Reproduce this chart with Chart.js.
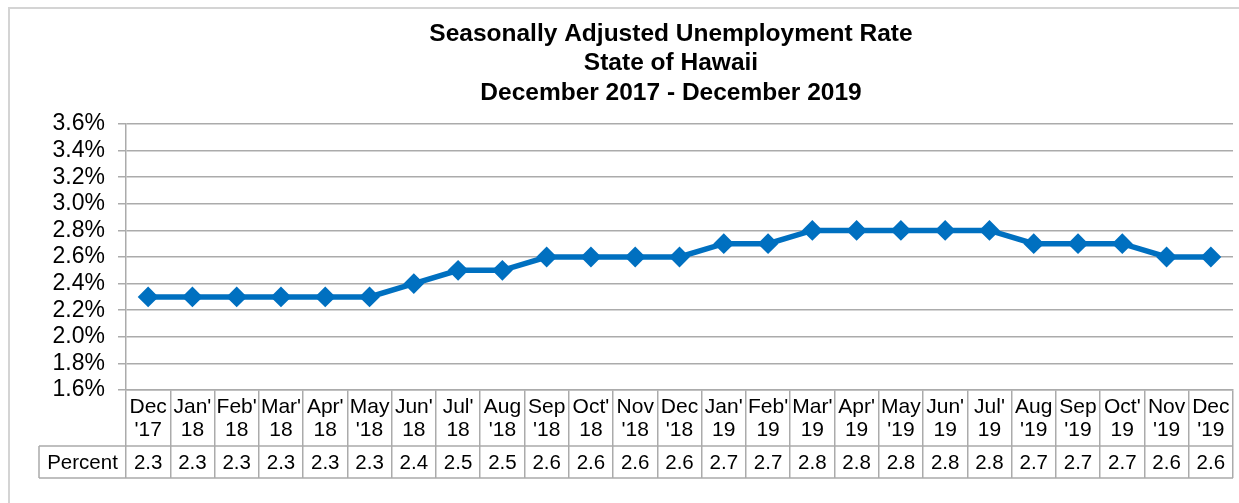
<!DOCTYPE html>
<html>
<head>
<meta charset="utf-8">
<script src="https://cdn.jsdelivr.net/npm/chart.js@4.4.1/dist/chart.umd.min.js"></script>
<style>
  html, body { margin: 0; padding: 0; background: #fff; overflow: hidden; }
  #wrap { position: relative; width: 1239px; height: 503px; }
  #frame { position: absolute; left: 8px; top: 7px; right: -5px; bottom: -5px;
           border-left: 2px solid #d4d4d4; border-top: 2px solid #d4d4d4; }
  #rateChart { position: absolute; left: 0; top: 0; }
</style>
</head>
<body>
<div id="wrap">
  <div id="frame"></div>
  <canvas id="rateChart" width="1239" height="503"></canvas>
</div>
<script>
// Chart text and data
const titleLines = [
    'Seasonally Adjusted Unemployment Rate',
    'State of Hawaii',
    'December 2017 - December 2019'
];

const monthLabels = [
    ['Dec', "'17"], ["Jan'", '18'], ["Feb'", '18'], ["Mar'", '18'], ["Apr'", '18'],
    ['May', "'18"], ["Jun'", '18'], ["Jul'", '18'], ['Aug', "'18"], ['Sep', "'18"],
    ["Oct'", '18'], ['Nov', "'18"], ['Dec', "'18"], ["Jan'", '19'], ["Feb'", '19'],
    ["Mar'", '19'], ["Apr'", '19'], ['May', "'19"], ["Jun'", '19'], ["Jul'", '19'],
    ['Aug', "'19"], ['Sep', "'19"], ["Oct'", '19'], ['Nov', "'19"], ['Dec', "'19"]
];

const rateValues = [
    2.3, 2.3, 2.3, 2.3, 2.3, 2.3, 2.4, 2.5, 2.5, 2.6, 2.6, 2.6, 2.6,
    2.7, 2.7, 2.8, 2.8, 2.8, 2.8, 2.8, 2.7, 2.7, 2.7, 2.6, 2.6
];

const rowLabel = 'Percent';
const yMin = 1.6, yMax = 3.6, yStep = 0.2;

const FONT = '"Liberation Sans", Arial, sans-serif';
const LINE_BLUE = '#0070C0';
const GRID_GRAY = '#ababab';

// Title drawn centred over the plot
const titlePlugin = {
    id: 'stackedTitle',
    afterDraw: (chart) => {
        const { ctx } = chart;
        ctx.save();
        ctx.font = 'bold 24.5px ' + FONT;
        ctx.fillStyle = '#000';
        ctx.textAlign = 'center';
        ctx.textBaseline = 'middle';
        titleLines.forEach((line, i) => {
            ctx.fillText(line, 671, 34 + i * 29.5);
        });
        ctx.restore();
    }
};

// Data table row under the category labels
const dataTablePlugin = {
    id: 'dataTable',
    afterDraw: (chart) => {
        const { ctx } = chart;
        const xs = chart.scales.x;
        const rowTop = xs.bottom - 32;
        const rowBottom = xs.bottom;
        const cellLeft = 39;

        ctx.save();
        ctx.strokeStyle = GRID_GRAY;
        ctx.lineWidth = 1.5;
        ctx.beginPath();
        ctx.moveTo(cellLeft, rowTop);
        ctx.lineTo(xs.right, rowTop);
        ctx.moveTo(cellLeft, rowBottom);
        ctx.lineTo(xs.right, rowBottom);
        ctx.moveTo(cellLeft, rowTop);
        ctx.lineTo(cellLeft, rowBottom);
        ctx.stroke();

        ctx.fillStyle = '#000';
        ctx.font = '20.5px ' + FONT;
        ctx.textAlign = 'center';
        ctx.textBaseline = 'middle';
        const midY = (rowTop + rowBottom) / 2 + 1;
        ctx.fillText(rowLabel, (cellLeft + xs.left) / 2, midY);
        rateValues.forEach((v, i) => {
            ctx.fillText(v.toFixed(1), xs.getPixelForValue(i), midY);
        });
        ctx.restore();
    }
};

const ctx = document.getElementById('rateChart').getContext('2d');

new Chart(ctx, {
    type: 'line',
    plugins: [titlePlugin, dataTablePlugin],
    data: {
        labels: monthLabels,
        datasets: [{
            label: rowLabel,
            data: rateValues,
            borderColor: LINE_BLUE,
            backgroundColor: LINE_BLUE,
            borderWidth: 5.5,
            tension: 0,
            pointStyle: 'rectRot',
            pointRadius: 9,
            pointHoverRadius: 9,
            pointBorderWidth: 2,
            pointBackgroundColor: LINE_BLUE,
            pointBorderColor: LINE_BLUE
        }]
    },
    options: {
        responsive: false,
        animation: false,
        layout: {
            autoPadding: false,
            padding: { top: 124, right: 6, bottom: 25, left: 0 }
        },
        plugins: {
            legend: { display: false },
            title: { display: false },
            tooltip: { enabled: false }
        },
        scales: {
            x: {
                offset: true,
                afterFit: (s) => {
                    s.height = 88;
                    s.paddingLeft = 0;
                    s.paddingRight = 0;
                },
                grid: {
                    offset: true,
                    drawOnChartArea: false,
                    drawTicks: true,
                    tickLength: 88,
                    color: GRID_GRAY,
                    lineWidth: 1.5
                },
                border: { display: true, color: GRID_GRAY, width: 1.5 },
                ticks: {
                    autoSkip: false,
                    maxRotation: 0,
                    padding: -82,
                    color: '#000',
                    font: { family: FONT, size: 21, lineHeight: 1.1 }
                }
            },
            y: {
                min: yMin,
                max: yMax,
                afterFit: (s) => { s.width = 126; },
                grid: {
                    color: GRID_GRAY,
                    lineWidth: 1.5,
                    tickLength: 8
                },
                border: { display: true, color: GRID_GRAY, width: 1.5 },
                ticks: {
                    autoSkip: false,
                    stepSize: yStep,
                    padding: 13,
                    color: '#000',
                    font: { family: FONT, size: 23 },
                    callback: (v) => v.toFixed(1) + '%'
                }
            }
        }
    }
});
</script>
</body>
</html>
